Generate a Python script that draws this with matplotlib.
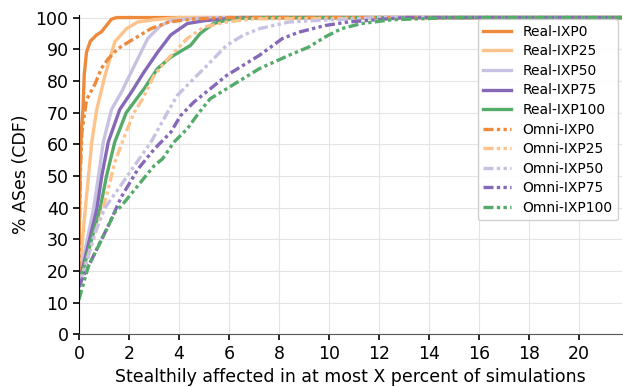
import matplotlib.pyplot as plt

# percent of simulations (x) vs cumulative % of ASes (y)
real_ixp0_x = [0, 0.02, 0.05, 0.1, 0.16, 0.21, 0.3, 0.45, 0.7, 0.9, 1.1, 1.3, 1.5, 21.7]
real_ixp0_y = [22, 40, 55, 65, 71, 82, 89, 92.5, 94.5, 95.5, 97.5, 99.5, 100, 100]

real_ixp25_x = [0, 0.12, 0.25, 0.38, 0.51, 0.71, 1.04, 1.43, 1.9, 2.35, 3.0, 4.0, 21.7]
real_ixp25_y = [19, 28, 39.5, 50, 60.7, 71, 81.7, 92.3, 96.5, 98.6, 99.3, 100, 100]

real_ixp50_x = [0, 0.12, 0.58, 0.78, 0.97, 1.3, 1.7, 2.22, 2.75, 3.27, 3.67, 4.5, 5.5, 21.7]
real_ixp50_y = [18, 22, 39.5, 50, 60.7, 71, 76.5, 84.9, 93.4, 97.5, 99, 99.7, 100, 100]

real_ixp75_x = [0, 0.15, 0.71, 0.91, 1.17, 1.63, 2.1, 2.6, 3.14, 3.67, 4.33, 5.0, 6.5, 21.7]
real_ixp75_y = [18, 21, 39.5, 50, 60.7, 71, 76.5, 82.8, 89, 94.5, 98.1, 99, 100, 100]

real_ixp100_x = [0, 0.15, 0.84, 1.1, 1.43, 1.89, 2.6, 3.14, 3.67, 4.46, 4.85, 5.38, 6.17, 7.5, 21.7]
real_ixp100_y = [17, 20, 39.5, 50, 60.7, 70, 77.5, 83.9, 87.5, 91.2, 95, 98.1, 99.7, 100, 100]

omni_ixp0_x = [0, 0.02, 0.05, 0.12, 0.3, 0.64, 0.9, 1.17, 1.56, 2.09, 2.88, 3.6, 4.5, 6.0, 21.7]
omni_ixp0_y = [20, 35, 50, 64, 74, 79, 84, 87, 90.2, 92.8, 96.5, 98.6, 99.5, 100, 100]

omni_ixp25_x = [0, 0.12, 0.91, 1.17, 1.43, 1.83, 2.2, 2.55, 3.0, 3.5, 3.8, 4.33, 5.0, 5.9, 7.0, 21.7]
omni_ixp25_y = [16, 18.4, 38.5, 45.9, 54.3, 62.8, 70, 74.4, 81.7, 86.5, 89, 93.4, 97, 98.6, 99.6, 100]

omni_ixp50_x = [0, 0.25, 0.64, 1.04, 1.57, 2.22, 2.88, 3.5, 3.93, 4.59, 5.25, 5.9, 6.56, 7.22, 8.4, 9.85, 12.0, 21.7]
omni_ixp50_y = [16, 21.6, 32.2, 40, 45.9, 53.3, 60.7, 69.5, 75.4, 80.7, 85.9, 91.2, 94.4, 96.5, 98.6, 99.2, 100, 100]

omni_ixp75_x = [0, 0.12, 0.64, 1.17, 1.7, 2.36, 3.01, 3.67, 4.06, 4.59, 5.25, 5.9, 6.56, 7.22, 8.14, 8.8, 9.85, 10.77, 13.0, 21.7]
omni_ixp75_y = [15, 17.4, 25.8, 34.3, 43.5, 52.2, 58.5, 63.8, 69, 73.3, 77.5, 81.7, 84.9, 88.1, 93.4, 95.4, 97.5, 98.6, 100, 100]

omni_ixp100_x = [0, 0.05, 0.38, 0.91, 1.43, 1.7, 2.36, 3.01, 3.34, 3.8, 4.33, 4.8, 5.25, 5.9, 6.56, 7.22, 8.4, 9.19, 9.85, 10.5, 11.3, 12.5, 15.0, 21.7]
omni_ixp100_y = [11, 12.5, 21.6, 30, 38.5, 40.6, 47, 53.3, 55.4, 60.7, 64.9, 70, 74.4, 77.5, 80.7, 83.9, 88.1, 90.7, 93.9, 96.5, 98.1, 99.3, 100, 100]

labels = ["IXP0", "IXP25", "IXP50", "IXP75", "IXP100"]
colors = ["#ee8a3c", "#fdc38a", "#c8c2e2", "#8668b8", "#55ab6a"]
real = [(real_ixp0_x, real_ixp0_y), (real_ixp25_x, real_ixp25_y), (real_ixp50_x, real_ixp50_y),
        (real_ixp75_x, real_ixp75_y), (real_ixp100_x, real_ixp100_y)]
omni = [(omni_ixp0_x, omni_ixp0_y), (omni_ixp25_x, omni_ixp25_y), (omni_ixp50_x, omni_ixp50_y),
        (omni_ixp75_x, omni_ixp75_y), (omni_ixp100_x, omni_ixp100_y)]

fig = plt.figure(figsize=(6.23, 3.87), dpi=100)
ax = fig.add_axes([0.1268, 0.1357, 0.8716, 0.8255])

for (x, y), lab, c in zip(real, labels, colors):
    ax.plot(x, y, color=c, lw=2.4, solid_joinstyle="round", label="Real-" + lab)
for (x, y), lab, c in zip(omni, labels, colors):
    ax.plot(x, y, color=c, lw=2.4, linestyle=(0, (3, 1, 1, 1, 1, 1)),
            dash_joinstyle="round", label="Omni-" + lab)

ax.set_xlim(0, 21.72)
ax.set_ylim(0, 100.8)
ax.set_xticks(range(0, 21, 2))
ax.set_yticks(range(0, 101, 10))
ax.grid(True, color="#e4e4e4", lw=0.8)
ax.set_axisbelow(True)
ax.spines["top"].set_visible(False)
ax.spines["right"].set_visible(False)
ax.spines["bottom"].set_color("#555555")
ax.tick_params(labelsize=12.5, length=4, width=1.2)
ax.set_xlabel("Stealthily affected in at most X percent of simulations", fontsize=12.5)
ax.set_ylabel("% ASes (CDF)", fontsize=12.5)
ax.legend(loc="upper right", fontsize=10, framealpha=0.9, handlelength=2.0,
          borderaxespad=0.3, labelspacing=0.4)

fig.savefig("out.png", dpi=100)
